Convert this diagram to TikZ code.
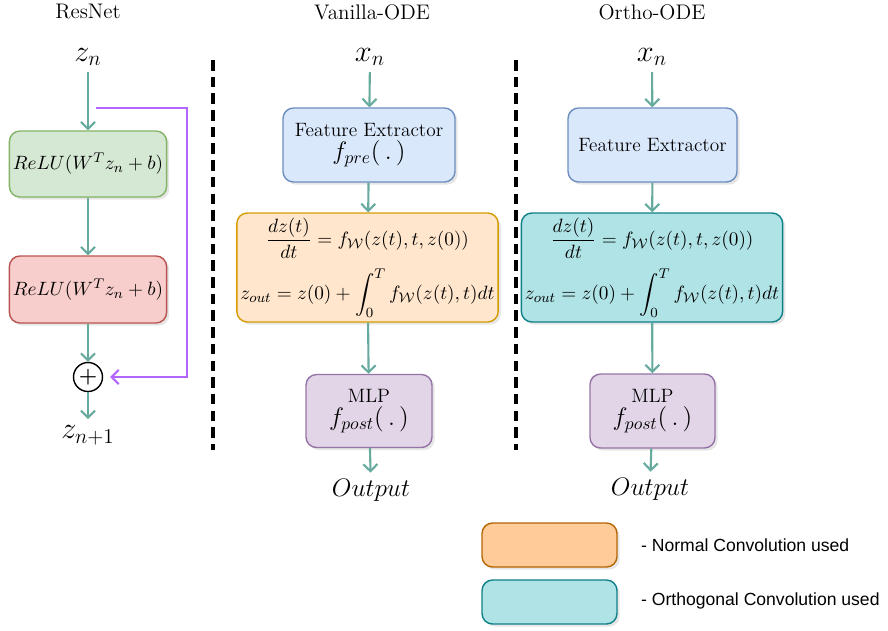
\documentclass[tikz,border=0pt]{standalone}
\usepackage{amssymb}
\usepackage{amsmath}
\usepackage{fontspec}
\newfontfamily\legendfont{Liberation Sans}
\usepackage{tikz}
\usetikzlibrary{arrows.meta, shadows}
\definecolor{flowgreen}{HTML}{67AB9F}
\definecolor{skipviolet}{HTML}{B266FF}
\definecolor{greenfill}{HTML}{D5E8D4}
\definecolor{greendraw}{HTML}{82B366}
\definecolor{redfill}{HTML}{F8CECC}
\definecolor{reddraw}{HTML}{B85450}
\definecolor{bluefill}{HTML}{DAE8FC}
\definecolor{bluedraw}{HTML}{6C8EBF}
\definecolor{orangefill}{HTML}{FFE6CC}
\definecolor{orangedraw}{HTML}{D79B00}
\definecolor{purplefill}{HTML}{E1D5E7}
\definecolor{purpledraw}{HTML}{9673A6}
\definecolor{tealfill}{HTML}{B0E3E6}
\definecolor{tealdraw}{HTML}{0E8088}
\definecolor{legendfill}{HTML}{FFCC99}
\definecolor{legenddraw}{HTML}{B46504}
\newcommand{\boxfont}{\fontsize{11}{13}\selectfont}

\begin{document}
\begin{tikzpicture}[
    box/.style={rectangle, rounded corners=6pt, thick, align=center, inner sep=2pt, font=\boxfont,
      drop shadow={opacity=0.2, shadow xshift=1.5pt, shadow yshift=-1.5pt}},
    flow/.style={draw=flowgreen, line width=1.2pt, -{Straight Barb[length=4pt, width=8pt]}},
    skip/.style={draw=skipviolet, line width=1.2pt, -{Straight Barb[length=4pt, width=8pt]}},
    divider/.style={line width=1.8pt, dash pattern=on 6pt off 3.5pt},
    title/.style={font=\large},
    var/.style={font=\LARGE},
    result/.style={font=\Large}
  ]
    \useasboundingbox (0,0) rectangle (17.76,-12.6);

    % column titles
    \node[title] (tres) at (1.76,-0.24) {ResNet};
    \node[title] (tvan) at (7.44,-0.24) {Vanilla-ODE};
    \node[title] (tort) at (13.04,-0.24) {Ortho-ODE};

    \draw[divider] (4.26,-1.2) -- (4.26,-9.0);
    \draw[divider] (10.32,-1.2) -- (10.32,-9.0);

    % ResNet
    \node[var] (zn) at (1.76,-1.14) {$z_n$};
    \node[box, fill=greenfill, draw=greendraw, minimum width=3cm, minimum height=1.32cm]
      (relu1) at (1.76,-3.28) {$ReLU(W^Tz_n+b)$};
    \node[box, fill=redfill, draw=reddraw, minimum width=3.14cm, minimum height=1.34cm]
      (relu2) at (1.76,-5.79) {$ReLU(W^Tz_n+b)$};
    \node[circle, draw, thick, fill=white, minimum size=0.58cm, inner sep=0pt] (add) at (1.76,-7.54) {\large$\boldsymbol{+}$};
    \node[var] (znn) at (1.76,-8.7) {$z_{n+1}$};

    \coordinate (s0) at (1.92,-2.16);
    \coordinate (s1) at (3.74,-2.16);
    \coordinate (s2) at (3.74,-7.54);

    \draw[flow] (zn) -- (relu1);
    \draw[flow] (relu1) -- (relu2);
    \draw[flow] (relu2) -- (add);
    \draw[flow] (add) -- (znn);
    \draw[skip] (s0) -- (s1) -- (s2) -- ([xshift=4pt]add.east);

    % Vanilla-ODE
    \node[var] (xa) at (7.4,-1.14) {$x_n$};
    \node[box, fill=bluefill, draw=bluedraw, minimum width=3.44cm, minimum height=1.48cm]
      (pre) at (7.38,-2.9) {Feature Extractor\\ {\Large$f_{pre}(\,.\,)$}};
    \node[box, fill=orangefill, draw=orangedraw, minimum width=5.06cm, minimum height=2.18cm]
      (odea) at (7.35,-5.35)
      {$\displaystyle\frac{dz(t)}{dt}=f_{\mathcal{W}}(z(t),t,z(0))$\\[5pt]
       $\displaystyle z_{out}=z(0)+\int_0^T f_{\mathcal{W}}(z(t),t)dt$};
    \node[box, fill=purplefill, draw=purpledraw, minimum width=2.52cm, minimum height=1.46cm]
      (posta) at (7.38,-8.22) {MLP\\ {\Large$f_{post}(\,.\,)$}};
    \node[result] (outa) at (7.42,-9.8) {$Output$};

    \draw[flow] (xa) -- (pre);
    \draw[flow] (pre) -- (odea);
    \draw[flow] (odea) -- (posta);
    \draw[flow] (posta) -- (outa);

    % Ortho-ODE
    \node[var] (xb) at (13.04,-1.14) {$x_n$};
    \node[box, fill=bluefill, draw=bluedraw, minimum width=3.38cm, minimum height=1.48cm]
      (feat) at (13.05,-2.9) {Feature Extractor};
    \node[box, fill=tealfill, draw=tealdraw, minimum width=4.96cm, minimum height=2.18cm]
      (odeb) at (13.04,-5.35)
      {$\displaystyle\frac{dz(t)}{dt}=f_{\mathcal{W}}(z(t),t,z(0))$\\[5pt]
       $\displaystyle z_{out}=z(0)+\int_0^T f_{\mathcal{W}}(z(t),t)dt$};
    \node[box, fill=purplefill, draw=purpledraw, minimum width=2.5cm, minimum height=1.48cm]
      (postb) at (13.05,-8.22) {MLP\\ {\Large$f_{post}(\,.\,)$}};
    \node[result] (outb) at (13.0,-9.78) {$Output$};

    \draw[flow] (xb) -- (feat);
    \draw[flow] (feat) -- (odeb);
    \draw[flow] (odeb) -- (postb);
    \draw[flow] (postb) -- (outb);

    % legend
    \node[box, fill=legendfill, draw=legenddraw, minimum width=2.7cm, minimum height=0.88cm] (keyn) at (10.99,-10.9) {};
    \node[box, fill=tealfill, draw=tealdraw, minimum width=2.7cm, minimum height=0.88cm] (keyo) at (10.99,-12.04) {};
    \node[anchor=west, font=\legendfont] (labn) at (12.7,-10.9) {- Normal Convolution used};
    \node[anchor=west, font=\legendfont] (labo) at (12.7,-12.02) {- Orthogonal Convolution used};
\end{tikzpicture}
\end{document}
